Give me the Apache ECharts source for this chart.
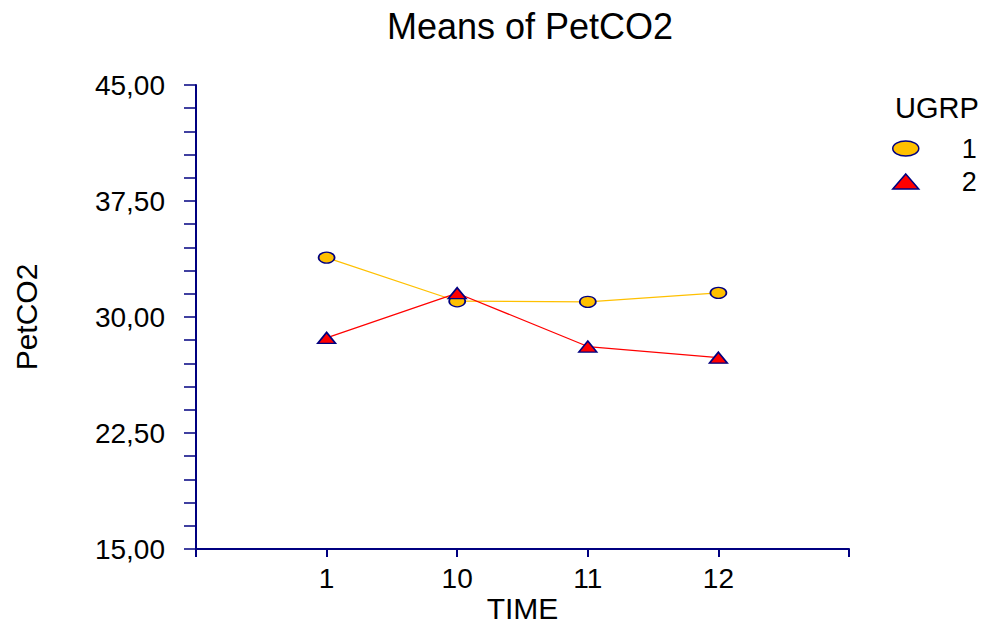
<!DOCTYPE html>
<html>
<head>
<meta charset="utf-8">
<script src="https://cdn.jsdelivr.net/npm/echarts@6/dist/echarts.min.js"></script>
<style>
  html, body { margin: 0; padding: 0; background: #fff; }
  #chart { width: 992px; height: 623px; }
</style>
</head>
<body>
<div id="chart"></div>
<script>
  // categories on the TIME axis (placed at 1..4, axis runs 0..5)
  const timeLabels = ['1', '10', '11', '12']
  const ugrp1 = [33.84, 31.02, 30.98, 31.56]
  const ugrp2 = [28.65, 31.54, 28.09, 27.37]
  const yTicks = [15, 22.5, 30, 37.5, 45]

  const navy = '#000080'
  const font = 'Liberation Sans, Arial, sans-serif'
  // ellipse path so the legend icon stretches like the original
  const ellipse = 'path://M0,5a10,5 0 1,0 20,0a10,5 0 1,0 -20,0z'

  const toPoints = arr => arr.map((v, i) => [i + 1, v])

  const chart = echarts.init(document.getElementById('chart'), null, { renderer: 'svg' })

  chart.setOption({
    animation: false,
    backgroundColor: '#fff',
    title: [
      {
        text: 'Means of PetCO2',
        left: 525,
        top: 3,
        textAlign: 'center',
        textStyle: { fontFamily: font, fontSize: 36, fontWeight: 'normal', color: '#000' }
      },
      {
        text: 'UGRP',
        left: 890,
        top: 88,
        textStyle: { fontFamily: font, fontSize: 29, fontWeight: 'normal', color: '#000' }
      }
    ],
    legend: {
      orient: 'vertical',
      left: 887,
      top: 130,
      itemWidth: 26,
      itemHeight: 15,
      itemGap: 6,
      symbolKeepAspect: false,
      selectedMode: false,
      textStyle: { fontFamily: font, fontSize: 27, lineHeight: 23, color: '#000', padding: [0, 0, 0, 38] },
      data: [
        { name: '1', icon: ellipse, itemStyle: { color: '#FFC000', borderColor: navy, borderWidth: 1.5 } },
        { name: '2', icon: 'triangle', itemStyle: { color: '#FF0000', borderColor: navy, borderWidth: 1.5 } }
      ]
    },
    grid: { left: 196, right: 143, top: 85, bottom: 74, containLabel: false, outerBoundsMode: 'none' },
    xAxis: {
      type: 'value',
      min: 0,
      max: 5,
      interval: 1,
      name: 'TIME',
      nameLocation: 'middle',
      nameGap: 46,
      nameMoveOverlap: false,
      nameTextStyle: { fontFamily: font, fontSize: 30, lineHeight: 26, color: '#000' },
      axisLine: { lineStyle: { color: navy, width: 2 } },
      axisTick: { length: 8, lineStyle: { color: navy, width: 2 } },
      splitLine: { show: false },
      axisLabel: {
        margin: 15,
        fontFamily: font,
        fontSize: 28,
        color: '#000',
        formatter: v => timeLabels[v - 1] ?? ''
      }
    },
    yAxis: {
      type: 'value',
      min: 15,
      max: 45,
      interval: 1.5,
      name: 'PetCO2',
      nameLocation: 'middle',
      nameGap: 155,
      nameMoveOverlap: false,
      nameTextStyle: { fontFamily: font, fontSize: 30, color: '#000' },
      axisLine: { show: true, lineStyle: { color: navy, width: 2 } },
      axisTick: { show: true, length: 12, lineStyle: { color: navy, width: 1.5 } },
      splitLine: { show: false },
      axisLabel: {
        margin: 31,
        fontFamily: font,
        fontSize: 28,
        color: '#000',
        formatter: v => {
          const hit = yTicks.find(t => Math.abs(t - v) < 1e-6)
          return hit === undefined ? '' : hit.toFixed(2).replace('.', ',')
        }
      }
    },
    series: [
      {
        name: '1',
        type: 'line',
        data: toPoints(ugrp1),
        symbol: 'circle',
        symbolSize: [16, 11],
        lineStyle: { color: '#FFC000', width: 1.2 },
        itemStyle: { color: '#FFC000', borderColor: navy, borderWidth: 1.5 },
        z: 2
      },
      {
        name: '2',
        type: 'line',
        data: toPoints(ugrp2),
        symbol: 'triangle',
        symbolSize: [18, 11],
        lineStyle: { color: '#FF0000', width: 1.2 },
        itemStyle: { color: '#FF0000', borderColor: navy, borderWidth: 1.5 },
        z: 3
      }
    ]
  })
</script>
</body>
</html>
